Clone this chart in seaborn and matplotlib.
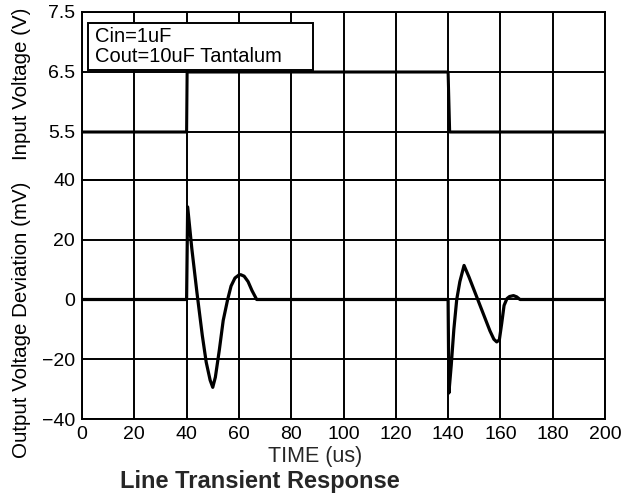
import matplotlib
matplotlib.use("Agg")
import matplotlib.pyplot as plt
from matplotlib.patches import Rectangle
import seaborn as sns
import pandas as pd

sns.set_theme(style="white")
plt.rcParams['font.family'] = ['Liberation Sans', 'DejaVu Sans']

# Input voltage step (V)
vin_time = [0, 40, 40.2, 140, 140.6, 200]
vin_volt = [5.5, 5.5, 6.5, 6.5, 5.5, 5.5]

# Output voltage deviation (mV)
vout_time = [0, 40, 40.4, 42, 44, 46, 47.5, 49, 50, 51, 52.5, 54, 55.7, 57, 58.5, 60, 60.7, 62, 63.5, 65, 66.8,
             100, 140, 140.3, 141.2, 142.2, 143.3, 144.5, 146.1, 148, 150, 152, 154, 156, 157.5, 158.6, 159.6,
             160.5, 161.4, 162.5, 163.5, 165, 166.2, 167.5, 200]
vout_mv = [0, 0, 31, 17, 2, -12, -21, -27, -29.4, -26, -17, -7, 0, 4.5, 7.2, 8.2, 8.3, 7.8, 6, 3, 0,
           0, 0, -31.3, -22, -10, 0, 6, 11.4, 7.5, 3, -1.5, -6, -10.5, -13.3, -14.2, -13.5,
           -8, -2, 0.3, 1.0, 1.3, 0.9, 0, 0]

top_ticks = [5.5, 6.5, 7.5]
bot_ticks = [-40, -20, 0, 20, 40]
x_ticks = list(range(0, 201, 20))

df_in = pd.DataFrame({"t": vin_time, "v": vin_volt})
df_out = pd.DataFrame({"t": vout_time, "v": vout_mv})

fig = plt.figure(figsize=(6.24, 4.94), dpi=100)
L, R = 82 / 624, 605 / 624
ax_top = fig.add_axes([L, 1 - 180 / 494, R - L, 168 / 494])
ax_bot = fig.add_axes([L, 1 - 419 / 494, R - L, 239 / 494])

sns.lineplot(data=df_in, x="t", y="v", ax=ax_top, color="black", linewidth=2.2, estimator=None, sort=False)
sns.lineplot(data=df_out, x="t", y="v", ax=ax_bot, color="black", linewidth=2.3, estimator=None, sort=False)

for ax in (ax_top, ax_bot):
    ax.set_xlim(0, 200)
    ax.set_xticks(x_ticks)
    ax.grid(True, color="black", linewidth=1.4)
    ax.tick_params(length=0, labelsize=14, colors="black")
    ax.tick_params(axis="y", pad=5)
    ax.tick_params(axis="x", pad=5)
    for s in ax.spines.values():
        s.set_color("black")
        s.set_linewidth(1.4)
    ax.set_xlabel("")
    ax.set_axisbelow(True)

ax_top.set_ylim(4.7, 7.5)
ax_top.set_yticks(top_ticks)
ax_top.set_yticklabels([f"{v:.1f}" for v in top_ticks])
ax_top.tick_params(axis="x", labelbottom=False)
ax_top.set_ylabel("Input Voltage (V)", fontsize=14.8, color="black")
ax_top.yaxis.set_label_coords(-0.098, 0.57)

ax_bot.set_ylim(-40, 40)
ax_bot.set_yticks(bot_ticks)
ax_bot.set_ylabel("Output Voltage Deviation (mV)", fontsize=14.8, color="black")
ax_bot.yaxis.set_label_coords(-0.098, 0.414)

# note box
ax_top.add_patch(Rectangle((0.0115, 0.655), 0.4302, 0.2795, transform=ax_top.transAxes,
                           facecolor="white", edgecolor="black", linewidth=1.4, zorder=5))
ax_top.text((95 - 82) / 523, (180 - 37) / 168, "Cin=1uF", transform=ax_top.transAxes,
            fontsize=14.5, va="center", ha="left", color="black", zorder=6)
ax_top.text((95 - 82) / 523, (180 - 57) / 168, "Cout=10uF Tantalum", transform=ax_top.transAxes,
            fontsize=14.5, va="center", ha="left", color="black", zorder=6)

fig.text(315 / 624, 1 - 456 / 494, "TIME (us)", ha="center", va="center", fontsize=15.5)
fig.text(260 / 624, 1 - 481 / 494, "Line Transient Response", ha="center", va="center",
         fontsize=17, fontweight="bold")

fig.savefig("out.png", dpi=100)
